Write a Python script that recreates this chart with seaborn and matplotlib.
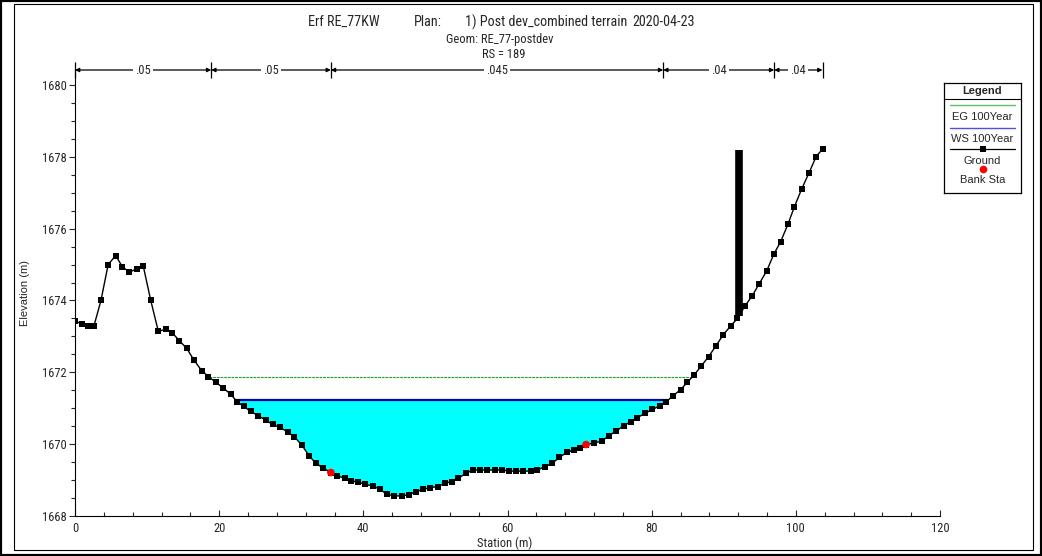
import numpy as np
import matplotlib
matplotlib.use("Agg")
import matplotlib.pyplot as plt
from matplotlib import font_manager
from matplotlib.patches import Rectangle
from matplotlib.ticker import MultipleLocator
import seaborn as sns

# ---- cross-section data ----
station = [0.0, 0.93, 1.85, 2.64, 3.6, 4.6, 5.64, 6.57, 7.54, 8.55, 9.48, 10.5,
           11.56, 12.58, 13.5, 14.47, 15.5, 16.5, 17.57, 18.5, 19.5, 20.58, 21.6,
           22.5, 23.4, 24.4, 25.4, 26.45, 27.4, 28.4, 29.5, 30.4, 31.45, 32.5, 33.4,
           34.45, 35.5, 36.4, 37.4, 38.3, 39.3, 40.3, 41.3, 42.3, 43.25, 44.25, 45.3,
           46.3, 47.3, 48.3, 49.25, 50.3, 51.3, 52.35, 53.2, 54.2, 55.2, 56.2, 57.2,
           58.2, 59.2, 60.2, 61.2, 62.2, 63.2, 64.1, 65.2, 66.2, 67.2, 68.2, 69.2,
           70.1, 70.9, 72.0, 73.1, 74.1, 75.1, 76.1, 77.1, 78.0, 79.1, 80.1, 81.1,
           82.0, 83.0, 84.0, 84.95, 85.9, 86.9, 87.9, 88.9, 89.9, 91.0, 91.9, 92.95,
           93.95, 94.9, 95.95, 96.97, 97.9, 98.9, 99.8, 100.8, 101.8, 102.8, 103.7]
elevation = [1673.43, 1673.35, 1673.30, 1673.30, 1674.00, 1675.00, 1675.25, 1674.94,
             1674.79, 1674.88, 1674.95, 1674.01, 1673.14, 1673.20, 1673.10, 1672.88,
             1672.67, 1672.34, 1672.05, 1671.88, 1671.73, 1671.56, 1671.39, 1671.18,
             1671.05, 1670.91, 1670.79, 1670.67, 1670.55, 1670.47, 1670.34, 1670.21,
             1669.98, 1669.67, 1669.47, 1669.33, 1669.21, 1669.12, 1669.05, 1668.98,
             1668.94, 1668.88, 1668.84, 1668.74, 1668.61, 1668.56, 1668.56, 1668.59,
             1668.68, 1668.74, 1668.79, 1668.82, 1668.91, 1668.96, 1669.05, 1669.19,
             1669.28, 1669.28, 1669.28, 1669.28, 1669.28, 1669.25, 1669.25, 1669.25,
             1669.25, 1669.28, 1669.37, 1669.47, 1669.63, 1669.77, 1669.84, 1669.90,
             1669.99, 1670.03, 1670.09, 1670.24, 1670.37, 1670.51, 1670.63, 1670.74,
             1670.86, 1670.97, 1671.06, 1671.18, 1671.35, 1671.52, 1671.72, 1671.93,
             1672.18, 1672.44, 1672.73, 1673.04, 1673.30, 1673.50, 1673.85, 1674.13,
             1674.46, 1674.82, 1675.30, 1675.64, 1676.12, 1676.61, 1677.10, 1677.54,
             1678.00, 1678.22]

bank_stations = [35.5, 70.9]
ws_elev = 1671.22          # WS 100Year
eg_elev = 1671.86          # EG 100Year
levee_station = 92.1
levee_top = 1678.2

n_breaks = [0.0, 18.9, 35.5, 81.6, 97.0, 103.7]
n_values = [".05", ".05", ".045", ".04", ".04"]

x_ticks = [0, 20, 40, 60, 80, 100, 120]
y_ticks = [1668, 1670, 1672, 1674, 1676, 1678, 1680]

title_parts = [("Erf RE_77KW", 308), ("Plan:", 414),
               ("1) Post dev_combined terrain", 465), ("2020-04-23", 632)]
subtitle_1 = "Geom: RE_77-postdev"
subtitle_2 = "RS = 189"

# ---- style ----
sns.set_style("white")
regular = ["Liberation Sans", "DejaVu Sans"]
plt.rcParams["font.family"] = regular

# condensed face for titles and axis numbers, if one is available
_cond = [f.name for f in font_manager.fontManager.ttflist
         if ("Narrow" in f.name or "Condensed" in f.name
             or f.stretch in ("condensed", "semi-condensed", 600, 700))]
if any("Liberation Sans Narrow" == n for n in _cond):
    narrow, nscale = ["Liberation Sans Narrow", "DejaVu Sans"], 1.0
elif any("Roboto Condensed" == n for n in _cond):
    narrow, nscale = ["Roboto Condensed", "DejaVu Sans"], 1.0
elif any("Open Sans Condensed" in n for n in _cond):
    narrow, nscale = [next(n for n in _cond if "Open Sans Condensed" in n)], 0.95
else:
    narrow, nscale = regular, 0.84

W, H = 1042, 556
fig = plt.figure(figsize=(W / 100, H / 100), dpi=100)
fig.patch.set_facecolor("white")


def fx(px):
    return px / W


def fy(py):
    return 1 - py / H


ax = fig.add_axes([fx(75), fy(516), fx(940) - fx(75), fy(70) - fy(516)])
ax.set_facecolor("white")

st = np.asarray(station)
el = np.asarray(elevation)


def crossings(level):
    """Stations where the ground profile crosses a horizontal level (first and last)."""
    pts = []
    for i in range(len(st) - 1):
        a, b = el[i] - level, el[i + 1] - level
        if a == 0:
            pts.append(st[i])
        elif a * b < 0:
            pts.append(st[i] + (st[i + 1] - st[i]) * a / (a - b))
    return pts[0], pts[-1]


# water body
ax.fill_between(st, el, ws_elev, where=el <= ws_elev, interpolate=True,
                color="#00FFFF", linewidth=0, zorder=1)
wl, wr = crossings(ws_elev)
ax.plot([wl, wr], [ws_elev, ws_elev], color="#0000B0", lw=1.6, zorder=2)
el_, er_ = crossings(eg_elev)
ax.plot([el_, er_], [eg_elev, eg_elev], color="#22A022", lw=0.8,
        linestyle=(0, (2.5, 0.8)), zorder=2)

# ground profile
sns.lineplot(x=st, y=el, ax=ax, color="black", lw=1.0, marker="s",
             markersize=4.3, markeredgewidth=0, sort=False, zorder=3)

# bank stations
bank_el = np.interp(bank_stations, st, el)
sns.scatterplot(x=bank_stations, y=bank_el, ax=ax, color="#FF0000", s=30,
                edgecolor="none", zorder=4)

# levee / obstruction
ax.vlines(levee_station, np.interp(levee_station, st, el), levee_top,
          color="black", lw=5.5, zorder=4)

ymax = 1680 + 15 / 35.92
ax.set_xlim(0, 120)
ax.set_ylim(1668, ymax)
ax.set_xticks(x_ticks)
ax.set_yticks(y_ticks)
ax.xaxis.set_minor_locator(MultipleLocator(4))
ax.yaxis.set_minor_locator(MultipleLocator(0.5))
for s in ["top", "right"]:
    ax.spines[s].set_visible(False)
for s in ["left", "bottom"]:
    ax.spines[s].set_color("black")
    ax.spines[s].set_linewidth(0.8)
tsize = 9.0 * nscale
ax.tick_params(axis="x", which="major", direction="in", length=4, width=0.8,
               pad=4, labelsize=tsize, bottom=True)
ax.tick_params(axis="x", which="minor", direction="in", length=3, width=0.8, bottom=True)
ax.tick_params(axis="y", which="major", direction="out", length=4, width=0.8,
               pad=2, labelsize=tsize, left=True)
ax.tick_params(axis="y", which="minor", direction="out", length=3, width=0.8, left=True)
for lab in ax.get_xticklabels() + ax.get_yticklabels():
    lab.set_family(narrow)
ax.set_xlabel("Station (m)", fontsize=tsize, family=narrow)
ax.xaxis.set_label_coords((505 - 75) / 865, (516 - 537) / 446)
ax.set_ylabel("Elevation (m)", fontsize=8, family=regular)
ax.yaxis.set_label_coords((30 - 75) / 865, 0.5)

# Manning's n bands along the top
ny = ymax
for x0, x1, n in zip(n_breaks[:-1], n_breaks[1:], n_values):
    ax.annotate("", xy=(x0, ny), xytext=(x1, ny), annotation_clip=False,
                arrowprops=dict(arrowstyle="<|-|>", lw=0.9, color="black",
                                mutation_scale=6, shrinkA=0, shrinkB=0))
    ax.text((x0 + x1) / 2, ny, n, ha="center", va="center", fontsize=tsize,
            family=narrow, clip_on=False,
            bbox=dict(facecolor="white", edgecolor="none", pad=1.5))
ax.vlines(n_breaks, ny - 0.22, ny + 0.22, color="black", lw=0.9, clip_on=False)

# titles
for txt, px in title_parts:
    fig.text(fx(px), fy(22), txt, ha="left", va="center",
             fontsize=10.2 * nscale, family=narrow)
fig.text(fx(500), fy(40), subtitle_1, ha="center", va="center",
         fontsize=tsize, family=narrow)
fig.text(fx(504), fy(55), subtitle_2, ha="center", va="center",
         fontsize=tsize, family=narrow)

# legend panel
lg = fig.add_axes([fx(944), fy(193), fx(1021) - fx(944), fy(83) - fy(193)])
lg.set_xlim(0, 1)
lg.set_ylim(193, 83)
lg.set_xticks([])
lg.set_yticks([])
for s in lg.spines.values():
    s.set_color("black")
    s.set_linewidth(0.9)
lg.text(0.5, 91, "Legend", ha="center", va="center", fontsize=8, fontweight="bold")
lg.axhline(99, color="black", lw=0.8)
lg.plot([0.08, 0.92], [105, 105], color="#60C060", lw=1.0)
lg.text(0.5, 117, "EG 100Year", ha="center", va="center", fontsize=8)
lg.plot([0.08, 0.92], [128, 128], color="#5050E8", lw=1.0)
lg.text(0.5, 139, "WS 100Year", ha="center", va="center", fontsize=8)
lg.plot([0.08, 0.92], [149, 149], color="black", lw=0.9)
lg.plot([0.5], [149], marker="s", color="black", markersize=4.3, markeredgewidth=0)
lg.text(0.5, 161, "Ground", ha="center", va="center", fontsize=8)
lg.plot([0.5], [169], marker="o", color="#FF0000", markersize=5.5, markeredgewidth=0)
lg.text(0.5, 180, "Bank Sta", ha="center", va="center", fontsize=8)

# panel frames
fig.add_artist(Rectangle((fx(14), fy(550)), fx(1033) - fx(14), fy(4) - fy(550),
                         transform=fig.transFigure, fill=False, edgecolor="black", lw=0.8))
fig.add_artist(Rectangle((0, 0), 1, 1, transform=fig.transFigure, fill=False,
                         edgecolor="black", lw=3))

fig.savefig("out.png", dpi=100)
